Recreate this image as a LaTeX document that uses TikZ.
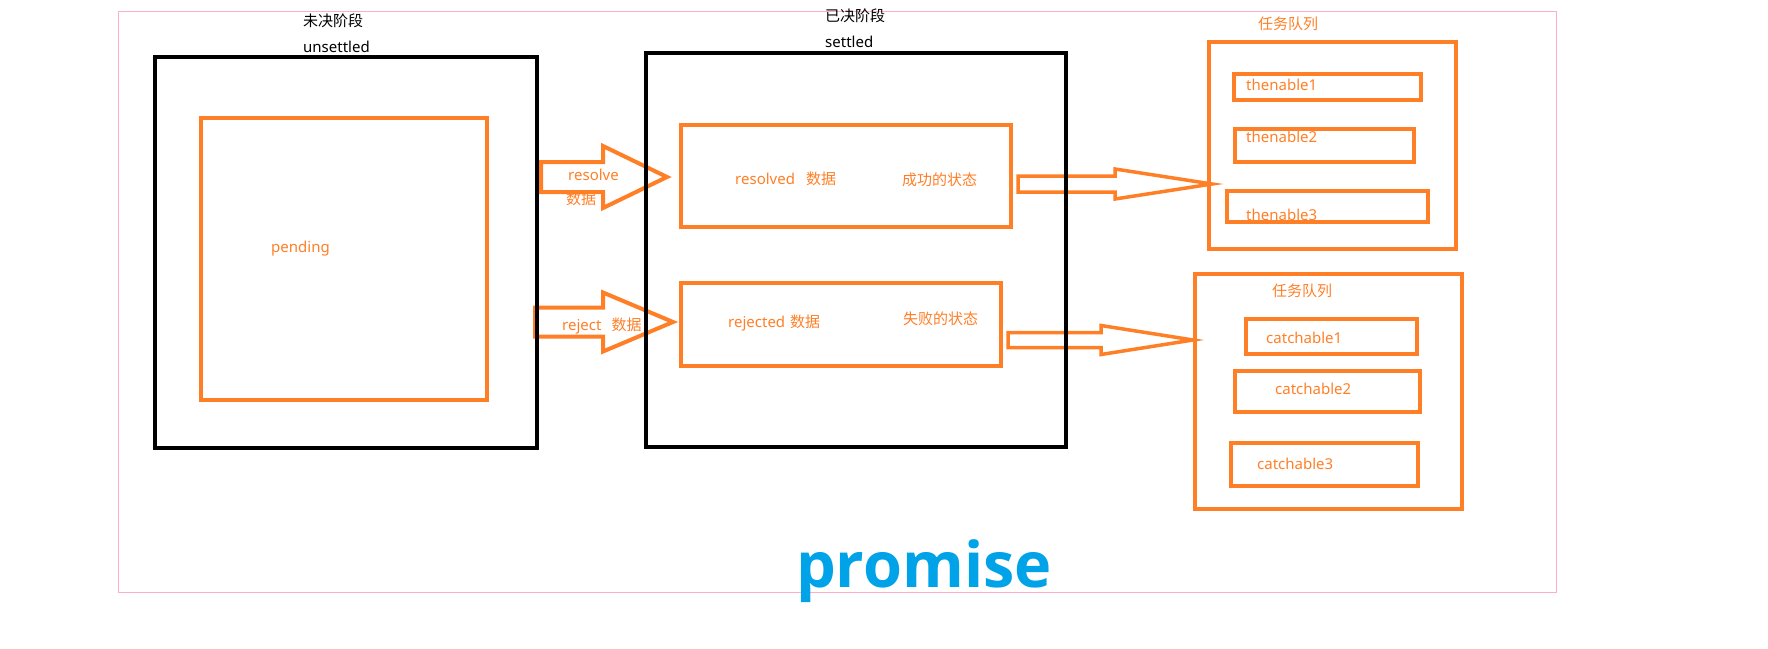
\documentclass[tikz,border=0pt]{standalone}
\usepackage{fontspec}
\setmainfont{Noto Sans}
\newfontfamily\cjk{Noto Sans CJK SC}
\newfontfamily\promisefont{Open Sans}
\usepackage{tikz}
\usetikzlibrary{positioning}
\definecolor{paintorange}{HTML}{FF7F27}
\definecolor{paintblue}{HTML}{00A2E8}
\definecolor{paintpink}{HTML}{FFAEC9}
\def\shu{{\cjk 数据}}
% block arrow: tail x, head base x, tip x, centre y, shaft half, head half
\newcommand{\fatarrow}[7][]{\draw[fatline,#1] (#2, #5-#6) -- (#3, #5-#6) -- (#3, #5-#7) -- (#4, #5) -- (#3, #5+#7) -- (#3, #5+#6) -- (#2, #5+#6) -- cycle;}

\begin{document}
\begin{tikzpicture}[blackbox/.style={draw, line width=4.5pt, minimum width=#1, inner sep=0pt}, orangebox/.style={draw=paintorange, line width=4pt, inner sep=0pt}, fatline/.style={draw=paintorange, line width=4pt, line join=miter}, txt/.style={inner sep=0pt, font=\fontsize{15}{18}\selectfont}, otxt/.style={txt, text=paintorange}, cn/.style={txt, font=\cjk\fontsize{15}{18}\selectfont}]
	\useasboundingbox (0pt, 0pt) rectangle (1768pt, -648pt);
	\draw (837pt, -301.5pt)node[draw=paintpink, line width=1pt, minimum width=1438pt, minimum height=581pt](frame){};
	% arrows first, the black boxes go over them
	\fatarrow{541pt}{603pt}{667pt}{-177pt}{15pt}{31pt}
	\fatarrow{535pt}{603pt}{673pt}{-322pt}{14.5pt}{29.5pt}
	\fatarrow[line width=3.5pt]{1018pt}{1115pt}{1212pt}{-184pt}{8pt}{15pt}
	\fatarrow[line width=3.5pt]{1008pt}{1101pt}{1193pt}{-340pt}{7.5pt}{14.5pt}
	\draw (346pt, -252.5pt)node[blackbox=382pt, minimum height=391pt](unsettled){};
	\draw (856pt, -250pt)node[blackbox=420pt, minimum height=394pt](settled){};
	\draw (344pt, -259pt)node[orangebox, minimum width=286pt, minimum height=282pt](pending){};
	\draw (846pt, -176pt)node[orangebox, minimum width=330pt, minimum height=102pt](resolved){};
	\draw (841pt, -324.5pt)node[orangebox, minimum width=320pt, minimum height=83pt](rejected){};
	\draw (1332.5pt, -145.5pt)node[orangebox, minimum width=247pt, minimum height=207pt](thenqueue){};
	\draw (1328pt, -391pt)node[orangebox, minimum width=267pt, minimum height=235pt](catchqueue){};
	% texts
	\draw (303pt, -23.5pt)node[cn, anchor=mid west](unsettledcn){未决阶段};
	\draw (303pt, -50pt)node[txt, anchor=mid west](unsettledtxt){unsettled};
	\draw (825pt, -19pt)node[cn, anchor=mid west](settledcn){已决阶段};
	\draw (825pt, -45pt)node[txt, anchor=mid west](settledtxt){settled};
	\draw (271pt, -250pt)node[otxt, anchor=mid west](pendingtxt){pending};
	\draw (568pt, -178pt)node[otxt, anchor=mid west](resolvetxt){resolve};
	\draw (566pt, -202pt)node[otxt, anchor=mid west](resolvedata){\shu};
	\draw (562pt, -328pt)node[otxt, anchor=mid west](rejecttxt){reject\hspace{10pt}\shu};
	\draw (735pt, -181.5pt)node[otxt, anchor=mid west](resolvedtxt){resolved\hspace{11pt}\shu};
	\draw (902pt, -183pt)node[otxt, anchor=mid west](resolvedstate){{\cjk 成功的状态}};
	\draw (728pt, -325pt)node[otxt, anchor=mid west](rejectedtxt){rejected\hspace{5pt}\shu};
	\draw (903pt, -322pt)node[otxt, anchor=mid west](rejectedstate){{\cjk 失败的状态}};
	\draw (1288pt, -26.5pt)node[otxt, anchor=mid](thenqueuetxt){{\cjk 任务队列}};
	\draw (1302pt, -294pt)node[otxt, anchor=mid](catchqueuetxt){{\cjk 任务队列}};
	\draw (1246pt, -88pt)node[otxt, anchor=mid west](then1txt){thenable1};
	\draw (1246pt, -140pt)node[otxt, anchor=mid west](then2txt){thenable2};
	\draw (1246pt, -218pt)node[otxt, anchor=mid west](then3txt){thenable3};
	\draw (1266pt, -341pt)node[otxt, anchor=mid west](catch1txt){catchable1};
	\draw (1275pt, -391.5pt)node[otxt, anchor=mid west](catch2txt){catchable2};
	\draw (1257pt, -466.5pt)node[otxt, anchor=mid west](catch3txt){catchable3};
	% small boxes over their texts
	\draw (1327pt, -86.5pt)node[orangebox, minimum width=187pt, minimum height=26pt](then1){};
	\draw (1324pt, -145pt)node[orangebox, minimum width=179pt, minimum height=33pt](then2){};
	\draw (1327pt, -206pt)node[orangebox, minimum width=201pt, minimum height=31pt](then3){};
	\draw (1331pt, -336pt)node[orangebox, minimum width=171pt, minimum height=35pt](catch1){};
	\draw (1327pt, -391pt)node[orangebox, minimum width=185pt, minimum height=41pt](catch2){};
	\draw (1324pt, -464pt)node[orangebox, minimum width=187pt, minimum height=43pt](catch3){};
	\draw (924pt, -587pt)node[inner sep=0pt, anchor=base, text=paintblue, font=\promisefont\bfseries\fontsize{63}{70}\selectfont](promise){promise};
\end{tikzpicture}
\end{document}
